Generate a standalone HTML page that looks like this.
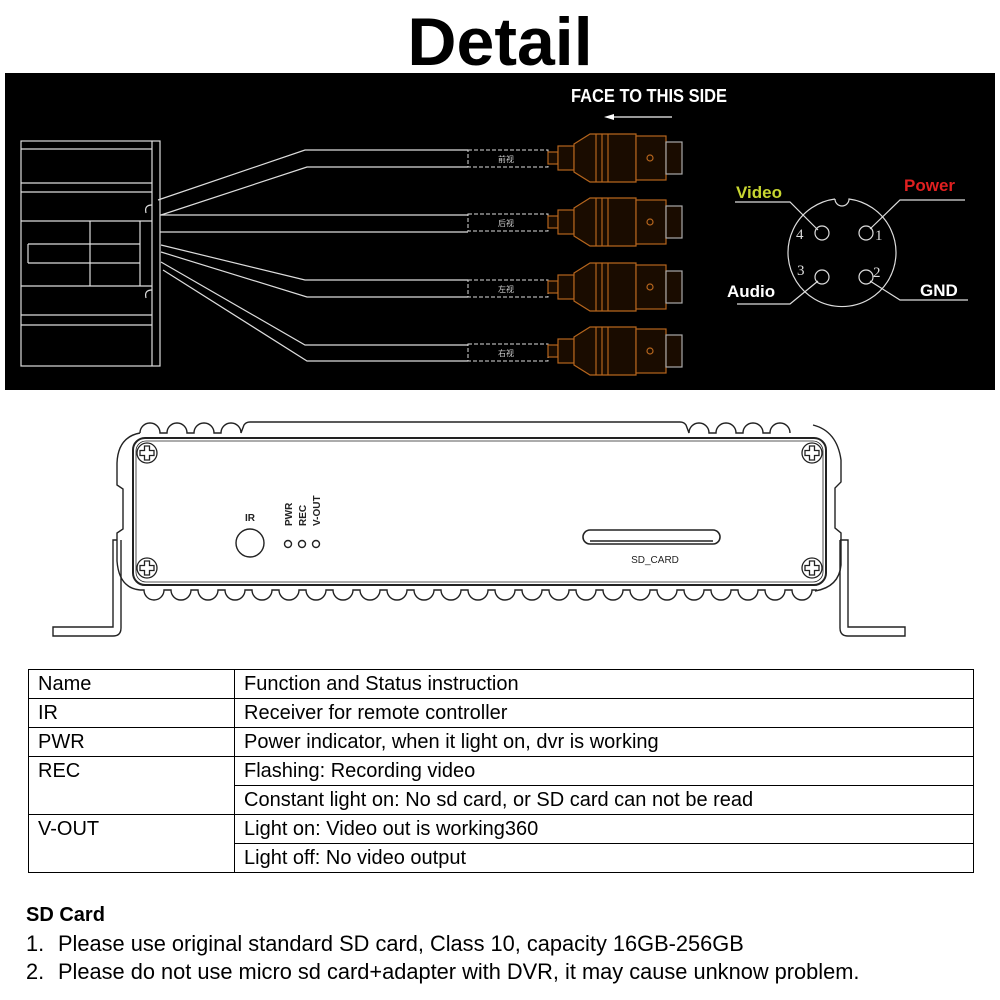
<!DOCTYPE html>
<html><head><meta charset="utf-8"><style>
html,body{margin:0;padding:0;background:#fff;}
body{width:1000px;height:1000px;position:relative;overflow:hidden;font-family:"Liberation Sans","Noto Sans CJK SC",sans-serif;}
.t{position:absolute;white-space:nowrap;}
table{position:absolute;left:28px;top:669px;border-collapse:collapse;width:946px;}
td{border:1px solid #000;height:28px;padding:0 0 0 9px;font-size:20px;line-height:28px;vertical-align:top;}
</style></head><body>
<div class="t" style="left:0;width:1000px;text-align:center;top:4px;font-size:68px;font-weight:bold;line-height:76px;">Detail</div>

<svg style="position:absolute;left:0;top:0" width="1000" height="660" xmlns="http://www.w3.org/2000/svg">
<defs>
<g id="c" stroke="#b5651d" stroke-width="1.2" fill="#1a0c00">
<rect x="548" y="-6" width="10" height="12"/>
<rect x="558" y="-12" width="16" height="24"/>
<path d="M574 -14 L590 -24 L636 -24 L636 24 L590 24 L574 14 Z"/>
<line x1="596" y1="-24" x2="596" y2="24"/><line x1="602" y1="-24" x2="602" y2="24"/><line x1="608" y1="-24" x2="608" y2="24"/>
<rect x="636" y="-22" width="30" height="44"/>
<circle cx="650" cy="0" r="3"/>
<rect x="666" y="-16" width="16" height="32" stroke="#aaa"/>
</g>
<g id="s" stroke="#222" stroke-width="1.3" fill="#fff">
<circle r="10"/>
<path d="M-2.5 -7 h5 v4.5 h4.5 v5 h-4.5 v4.5 h-5 v-4.5 h-4.5 v-5 h4.5 z"/>
</g>
</defs>
<rect x="5" y="73" width="990" height="317" fill="#000"/>
<text x="571" y="102" fill="#fff" font-family="Liberation Sans" font-weight="bold" font-size="18" textLength="156" lengthAdjust="spacingAndGlyphs">FACE TO THIS SIDE</text>
<line x1="610" y1="117" x2="672" y2="117" stroke="#ccc" stroke-width="1.5"/>
<polygon points="604,117 614,114 614,120" fill="#fff"/>
<g stroke="#ddd" stroke-width="1.2" fill="none">
<rect x="21" y="141" width="139" height="225"/>
<line x1="152" y1="141" x2="152" y2="366"/>
<line x1="21" y1="149" x2="152" y2="149"/>
<line x1="21" y1="183" x2="152" y2="183"/>
<line x1="21" y1="192" x2="152" y2="192"/>
<line x1="21" y1="221" x2="152" y2="221"/>
<line x1="28" y1="244" x2="140" y2="244"/>
<line x1="28" y1="263" x2="140" y2="263"/>
<line x1="28" y1="244" x2="28" y2="263"/>
<line x1="90" y1="221" x2="90" y2="286"/>
<line x1="140" y1="221" x2="140" y2="286"/>
<line x1="21" y1="286" x2="152" y2="286"/>
<line x1="21" y1="315" x2="152" y2="315"/>
<line x1="21" y1="325" x2="152" y2="325"/>
<path d="M152 205 q-8 0 -6 8"/><path d="M152 290 q-8 0 -6 8"/>
<polyline points="158,200 305,150 468,150"/><polyline points="161,215 307,167 468,167"/>
<polyline points="160,215 468,215"/><polyline points="160,232 468,232"/>
<polyline points="161,245 305,280 468,280"/><polyline points="161,252 307,297 468,297"/>
<polyline points="161,262 305,345 468,345"/><polyline points="163,270 307,361 468,361"/>
</g>
<g font-family="Noto Sans CJK SC" font-size="8" fill="#ccc" text-anchor="middle">
<text x="506" y="162">前视</text><text x="506" y="226">后视</text><text x="506" y="292">左视</text><text x="506" y="356">右视</text>
</g>
<g stroke="#ddd" stroke-width="1" stroke-dasharray="4,2" fill="none">
<rect x="468" y="150" width="80" height="17"/><rect x="468" y="214" width="80" height="17"/>
<rect x="468" y="280" width="80" height="17"/><rect x="468" y="344" width="80" height="17"/>
</g>
<use href="#c" y="158"/><use href="#c" y="222"/><use href="#c" y="287"/><use href="#c" y="351"/>
<g stroke="#ddd" stroke-width="1.2" fill="none">
<path d="M835 199 A54 54 0 1 0 849 199 A7 7 0 0 1 835 199"/>
<circle cx="822" cy="233" r="7"/><circle cx="866" cy="233" r="7"/>
<circle cx="822" cy="277" r="7"/><circle cx="866" cy="277" r="7"/>
<polyline points="735,202 790,202 818,230"/>
<polyline points="965,200 900,200 870,229"/>
<polyline points="737,304 790,304 818,281"/>
<polyline points="968,300 900,300 870,281"/>
</g>
<g font-family="Liberation Serif" font-size="15" fill="#ddd">
<text x="796" y="239">4</text><text x="875" y="240">1</text><text x="797" y="275">3</text><text x="873" y="277">2</text>
</g>
<g font-family="Liberation Sans" font-weight="bold" font-size="17">
<text x="736" y="198" fill="#c8d631">Video</text>
<text x="904" y="191" fill="#e02020">Power</text>
<text x="727" y="297" fill="#fff">Audio</text>
<text x="920" y="296" fill="#fff">GND</text>
</g>

<g stroke="#222" stroke-width="1.4" fill="none">
<path d="M140 433 a10 10 0 0 1 20 0 h7 a10 10 0 0 1 20 0 h7 a10 10 0 0 1 20 0 h7 a10 10 0 0 1 20 0 l3 -8 q2 -3 6 -3 H680 q4 0 6 3 l3 8 a10 10 0 0 1 20 0 h7 a10 10 0 0 1 20 0 h7 a10 10 0 0 1 20 0 h7 a10 10 0 0 1 20 0"/>
<path d="M140 433 q-22 4 -23 30 v22 l6 4 v40 l-6 4 v28 q2 27 23 29"/>
<path d="M813 425 q24 6 28 35 v22 l-6 6 v40 l6 5 v32 q-2 22 -26 26"/>
<path d="M140 590 h4 a10 10 0 0 0 20 0 h7 a10 10 0 0 0 20 0 h7 a10 10 0 0 0 20 0 h7 a10 10 0 0 0 20 0 h7 a10 10 0 0 0 20 0 h7 a10 10 0 0 0 20 0 h7 a10 10 0 0 0 20 0 h7 a10 10 0 0 0 20 0 h7 a10 10 0 0 0 20 0 h7 a10 10 0 0 0 20 0 h7 a10 10 0 0 0 20 0 h7 a10 10 0 0 0 20 0 h7 a10 10 0 0 0 20 0 h7 a10 10 0 0 0 20 0 h7 a10 10 0 0 0 20 0 h7 a10 10 0 0 0 20 0 h7 a10 10 0 0 0 20 0 h7 a10 10 0 0 0 20 0 h7 a10 10 0 0 0 20 0 h7 a10 10 0 0 0 20 0 h7 a10 10 0 0 0 20 0 h7 a10 10 0 0 0 20 0 h7 a10 10 0 0 0 20 0 h7 a10 10 0 0 0 20 0 h7 a10 10 0 0 0 20 0 h5"/>
<rect x="133" y="438" width="693" height="147" rx="12" stroke-width="2"/>
<rect x="136" y="441" width="687" height="141" rx="10" stroke-width="0.8"/>
<path d="M117 540 h-4 v87 h-60 v9 h60 q8 0 8 -8 v-88"/>
<path d="M840 540 h8 v87 h57 v9 h-57 q-8 0 -8 -8 v-88"/>
<circle cx="250" cy="543" r="14"/>
<circle cx="288" cy="544" r="3.5"/><circle cx="302" cy="544" r="3.5"/><circle cx="316" cy="544" r="3.5"/>
<rect x="583" y="530" width="137" height="14" rx="7" stroke-width="1.6"/>
<line x1="590" y1="541" x2="713" y2="541"/>
</g>
<use href="#s" x="147" y="453"/><use href="#s" x="147" y="568"/>
<use href="#s" x="812" y="453"/><use href="#s" x="812" y="568"/>
<g font-family="Liberation Sans" font-size="10" font-weight="bold" fill="#222">
<text x="250" y="521" text-anchor="middle">IR</text>
<text transform="translate(292,526) rotate(-90)">PWR</text>
<text transform="translate(306,526) rotate(-90)">REC</text>
<text transform="translate(320,526) rotate(-90)">V-OUT</text>
<text x="655" y="563" text-anchor="middle" font-weight="normal">SD_CARD</text>
</g>
</svg>

<table>
<tr><td style="width:196px">Name</td><td>Function and Status instruction</td></tr>
<tr><td>IR</td><td>Receiver for remote controller</td></tr>
<tr><td>PWR</td><td>Power indicator, when it light on, dvr is working</td></tr>
<tr><td rowspan="2">REC</td><td>Flashing: Recording video</td></tr>
<tr><td>Constant light on: No sd card, or SD card can not be read</td></tr>
<tr><td rowspan="2">V-OUT</td><td>Light on: Video out is working360</td></tr>
<tr><td>Light off: No video output</td></tr>
</table>

<div class="t" style="left:26px;top:904px;font-size:20px;font-weight:bold;">SD Card</div>
<div class="t" style="left:26px;top:931px;font-size:21.8px;">1.</div>
<div class="t" style="left:58px;top:931px;font-size:21.8px;">Please use original standard SD card, Class 10, capacity 16GB-256GB</div>
<div class="t" style="left:26px;top:959px;font-size:21.8px;">2.</div>
<div class="t" style="left:58px;top:959px;font-size:21.8px;">Please do not use micro sd card+adapter with DVR, it may cause unknow problem.</div>
</body></html>
